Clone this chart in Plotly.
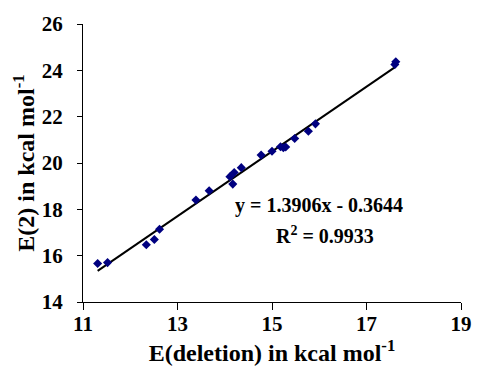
import numpy as np
import plotly.graph_objects as go

# Data
e_deletion = [11.31, 11.52, 12.34, 12.51, 12.62, 13.39, 13.67, 14.11, 14.17, 14.20,
              14.35, 14.77, 15.00, 15.18, 15.24, 15.29, 15.48, 15.77, 15.92, 17.60, 17.62]
e2 = [15.66, 15.70, 16.47, 16.70, 17.14, 18.40, 18.80, 19.41, 19.09, 19.59,
      19.80, 20.34, 20.51, 20.70, 20.66, 20.69, 21.06, 21.37, 21.69, 24.25, 24.37]

x_ticks = [11, 13, 15, 17, 19]
y_ticks = [14, 16, 18, 20, 22, 24, 26]
equation_text = "y = 1.3906x - 0.3644"
r2_text = "R<sup>2</sup> = 0.9933"

# linear trendline fitted from the data
slope, intercept = np.polyfit(e_deletion, e2, 1)
xl = np.array([min(e_deletion), max(e_deletion)])
yl = slope * xl + intercept

FONT = "Liberation Serif, Times New Roman, serif"

fig = go.Figure()
fig.add_trace(go.Scatter(x=xl, y=yl, mode="lines",
                         line=dict(color="black", width=2), showlegend=False,
                         hoverinfo="skip"))
fig.add_trace(go.Scatter(x=e_deletion, y=e2, mode="markers",
                         marker=dict(symbol="diamond", size=7, color="#000080"),
                         showlegend=False))

fig.add_annotation(x=16.0, y=18.15, xref="x", yref="y", text=f"<b>{equation_text}</b>",
                   showarrow=False, font=dict(family=FONT, size=20, color="black"))
fig.add_annotation(x=16.12, y=16.88, xref="x", yref="y", text=f"<b>{r2_text}</b>",
                   showarrow=False, font=dict(family=FONT, size=20, color="black"))

fig.update_layout(
    width=484, height=372,
    margin=dict(l=83, r=12, t=22, b=70),
    plot_bgcolor="white", paper_bgcolor="white",
    font=dict(family=FONT, size=20, color="black"),
    xaxis=dict(range=[11, 19], tickvals=x_ticks, ticktext=[f"<b>{v}</b>" for v in x_ticks],
               showgrid=False, zeroline=False, showline=True, linecolor="black", linewidth=1,
               ticks="outside", ticklen=7, tickcolor="black", ticklabelstandoff=-4,
               tickfont=dict(family=FONT, size=21, color="black"),
               title=dict(text="<b>E(deletion) in kcal mol<sup>-1</sup></b>", standoff=0,
                          font=dict(family=FONT, size=24, color="black"))),
    yaxis=dict(range=[14, 26], tickvals=y_ticks, ticktext=[f"<b>{v}</b>" for v in y_ticks],
               showgrid=False, zeroline=False, showline=True, linecolor="black", linewidth=1,
               ticks="outside", ticklen=5, tickcolor="black", ticklabelstandoff=10,
               tickfont=dict(family=FONT, size=21, color="black"),
               title=dict(text="<b>E(2) in kcal mol<sup>-1</sup></b>", standoff=0,
                          font=dict(family=FONT, size=24, color="black"))),
)

fig.write_html("out.html", config={"displayModeBar": False},
               post_script="document.body.style.margin='0';document.body.style.overflow='hidden';")
